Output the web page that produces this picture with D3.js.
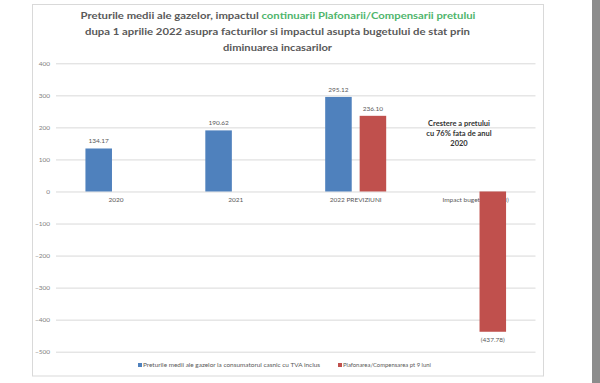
<!DOCTYPE html>
<html>
<head>
<meta charset="utf-8">
<script src="https://cdn.jsdelivr.net/npm/d3@7"></script>
<style>
  html, body { margin: 0; padding: 0; background: #ffffff; }
  svg { display: block; }
</style>
</head>
<body>
<svg id="chart" width="600" height="383"></svg>
<script>
// ---- data ----
const categories = ["2020", "2021", "2022 PREVIZIUNI", "Impact bugetar (mil. lei)"];
const seriesKeys = ["preturi", "plafonare"];
const seriesNames = [
  "Preturile medii ale gazelor la consumatorul casnic cu TVA inclus",
  "Plafonarea/Compensarea pt 9 luni"
];
const preturiValues = [134.17, 190.62, 295.12, null];
const plafonareValues = [null, null, 236.10, -437.78];
const yTickValues = [400, 300, 200, 100, 0, -100, -200, -300, -400, -500];
const titleLine1Gray = "Preturile medii ale gazelor, impactul ";
const titleLine1Green = "continuarii  Plafonarii/Compensarii  pretului";
const titleLine2 = "dupa  1 aprilie  2022 asupra  facturilor si impactul asupta bugetului de stat prin";
const titleLine3 = "diminuarea  incasarilor";
const noteLines = ["Crestere a pretului", "cu 76% fata de anul", "2020"];

// ---- styles ----
const colors = { preturi: "#4f81bd", plafonare: "#c0504d" };
const font = "Lato, 'Open Sans', 'DejaVu Sans', sans-serif";
const svg = d3.select("#chart");

// background strip at right (photo edge)
svg.append("rect").attr("x", 592).attr("y", 0).attr("width", 8).attr("height", 383).attr("fill", "#8c8c8c");

// frame
svg.append("rect").attr("x", 32.5).attr("y", 4.5).attr("width", 511).attr("height", 371.5)
  .attr("fill", "#ffffff").attr("stroke", "#d9d9d9").attr("stroke-width", 1);

// scales
const x = d3.scaleBand().domain(categories).range([56, 535.5]).paddingInner(0).paddingOuter(0);
const y = d3.scaleLinear().domain([-500, 400]).range([351.7, 63.3]);
const bw = x.bandwidth();
const x1 = d3.scaleBand().domain(seriesKeys).range([bw / 2 - 30.5, bw / 2 + 30.5]).paddingInner(0.23);

// gridlines + y axis
const yAxis = d3.axisLeft(y).tickValues(yTickValues).tickSize(-(535.5 - 56)).tickPadding(6).tickFormat(d3.format("d"));
const gAx = svg.append("g").attr("transform", "translate(56,0)").call(yAxis);
gAx.select(".domain").remove();
gAx.selectAll(".tick line").attr("stroke", "#d9d9d9").attr("stroke-width", 1);
gAx.selectAll(".tick text").attr("fill", "#7f7f7f").attr("font-family", font).attr("font-size", 6.5);

// category labels (drawn under the bars)
const xAxis = d3.axisBottom(x).tickSize(0).tickPadding(6);
const gX = svg.append("g").attr("transform", `translate(0,${y(0)})`).call(xAxis);
gX.select(".domain").remove();
gX.selectAll(".tick text").attr("fill", "#595959").attr("font-family", font).attr("font-size", 6.5);

// bars
const rows = categories.map((c, i) => ({ cat: c, values: [
  { key: "preturi", v: preturiValues[i] },
  { key: "plafonare", v: plafonareValues[i] }
].filter(d => d.v !== null) }));

const groups = svg.append("g").selectAll("g").data(rows).join("g")
  .attr("transform", d => `translate(${x(d.cat)},0)`);

groups.selectAll("rect").data(d => d.values).join("rect")
  .attr("x", d => x1(d.key))
  .attr("width", x1.bandwidth())
  .attr("y", d => y(Math.max(0, d.v)))
  .attr("height", d => Math.abs(y(d.v) - y(0)))
  .attr("fill", d => colors[d.key]);

const fmt = d3.format(".2f");
groups.selectAll("text.val").data(d => d.values).join("text")
  .attr("class", "val")
  .attr("x", d => x1(d.key) + x1.bandwidth() / 2)
  .attr("y", d => d.v >= 0 ? y(d.v) - 5 : y(d.v) + 10.5)
  .attr("text-anchor", "middle")
  .attr("fill", "#595959")
  .attr("font-family", font)
  .attr("font-size", 6.5)
  .text(d => d.v >= 0 ? fmt(d.v) : "(" + fmt(-d.v) + ")");

// title
const title = svg.append("g").attr("font-family", font).attr("font-weight", "bold").attr("font-size", 10).attr("fill", "#595959");
const t1 = title.append("text").attr("x", 278).attr("y", 19).attr("text-anchor", "middle")
  .attr("textLength", 395).attr("lengthAdjust", "spacingAndGlyphs");
t1.append("tspan").text(titleLine1Gray);
t1.append("tspan").attr("fill", "#4fb56c").text(titleLine1Green);
title.append("text").attr("x", 277.5).attr("y", 35).attr("text-anchor", "middle")
  .attr("textLength", 385).attr("lengthAdjust", "spacingAndGlyphs").text(titleLine2);
title.append("text").attr("x", 277.5).attr("y", 50.5).attr("text-anchor", "middle")
  .attr("textLength", 109).attr("lengthAdjust", "spacingAndGlyphs").text(titleLine3);

// annotation
svg.append("g").selectAll("text").data(noteLines).join("text")
  .attr("x", 459).attr("y", (d, i) => 126 + i * 10)
  .attr("text-anchor", "middle")
  .attr("font-family", font).attr("font-weight", "bold").attr("font-size", 7.5)
  .attr("fill", "#333333")
  .text(d => d);

// legend
const legendX = [140, 340];
const legendW = [177, 88];
const lg = svg.append("g").selectAll("g").data(seriesKeys).join("g")
  .attr("transform", (d, i) => `translate(${legendX[i]},365)`);
lg.append("rect").attr("x", -2).attr("y", -2).attr("width", 4).attr("height", 4).attr("fill", d => colors[d]);
lg.append("text").attr("x", 3).attr("y", 2.3)
  .attr("font-family", font).attr("font-size", 6.5).attr("fill", "#595959")
  .attr("textLength", (d, i) => legendW[i]).attr("lengthAdjust", "spacingAndGlyphs")
  .text((d, i) => seriesNames[i]);
</script>
</body>
</html>
